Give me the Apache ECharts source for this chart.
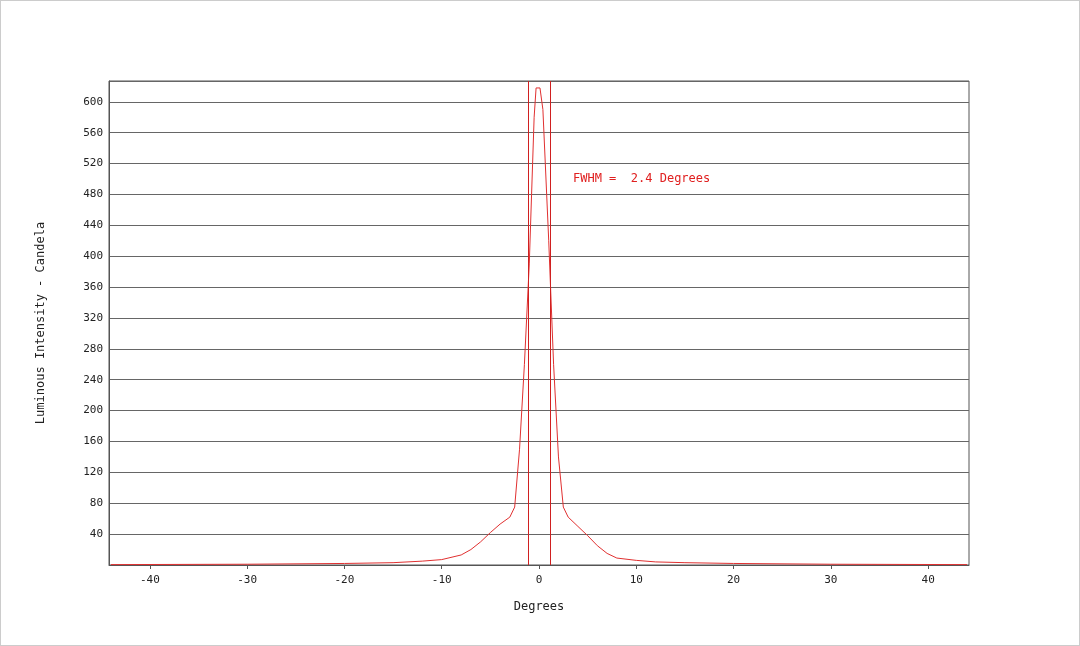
<!DOCTYPE html>
<html><head><meta charset="utf-8">
<script src="https://cdn.jsdelivr.net/npm/echarts@6/dist/echarts.min.js"></script>
<style>html,body{margin:0;padding:0;background:#fff}#c{width:1080px;height:646px;box-sizing:border-box;border:1px solid #ccc}</style>
</head><body><div id="c"></div>
<script>
const degrees = [-44,-30,-20,-15,-12,-10,-8,-7,-6,-5,-4,-3,-2.5,-2,-1.5,-1,-0.5,-0.3,0.1,0.4,1,1.5,2,2.5,3,4,5,6,7,8,10,12,15,20,30,44];
const intensity = [0.5,1,2,3,5,7,13,20,30,42,53,62,75,150,260,390,580,618,618,590,420,260,140,75,62,50,38,25,15,9,6,4,3,2,1,0.5];
const xTicks = [-40,-30,-20,-10,0,10,20,30,40];
const fwhmLines = [-1.1, 1.2];
const fwhmText = 'FWHM =  2.4 Degrees';
const font = 'DejaVu Sans Mono';
const chart = echarts.init(document.getElementById('c'));
chart.setOption({
  animation:false,
  textStyle:{fontFamily:font},
  grid:{left:108,right:110,top:80,bottom:80,show:true,borderColor:'#555',borderWidth:1},
  xAxis:{type:'value',min:-44.2,max:44.2,name:'Degrees',nameLocation:'middle',nameGap:36,
    nameTextStyle:{fontFamily:font,fontSize:12,color:'#222'},
    axisLine:{onZero:false,lineStyle:{color:'#555'}},
    axisTick:{show:true,customValues:xTicks,length:4,lineStyle:{color:'#555'}},
    axisLabel:{customValues:xTicks,fontFamily:font,fontSize:11,color:'#222',margin:10},
    splitLine:{show:false}},
  yAxis:{type:'value',min:0,max:627,interval:40,name:'Luminous Intensity - Candela',nameLocation:'middle',nameGap:62,
    nameTextStyle:{fontFamily:font,fontSize:12,color:'#222'},
    axisLine:{show:true,onZero:false,lineStyle:{color:'#555'}},axisTick:{show:false},
    axisLabel:{showMinLabel:false,showMaxLabel:false,fontFamily:font,fontSize:11,color:'#222',margin:6},
    splitLine:{show:true,lineStyle:{color:'#666',width:1}}},
  series:[{type:'line',data:degrees.map((d,i)=>[d,intensity[i]]),showSymbol:false,
    lineStyle:{color:'#e03030',width:1},
    markLine:{silent:true,symbol:'none',label:{show:false},lineStyle:{color:'#d02020',width:1,type:'solid'},
      data:fwhmLines.map(v=>({xAxis:v}))}}],
  graphic:[{type:'text',left:572,top:172,style:{text:fwhmText,fill:'#e02020',font:'12px "'+font+'"'}}]
});
</script></body></html>
